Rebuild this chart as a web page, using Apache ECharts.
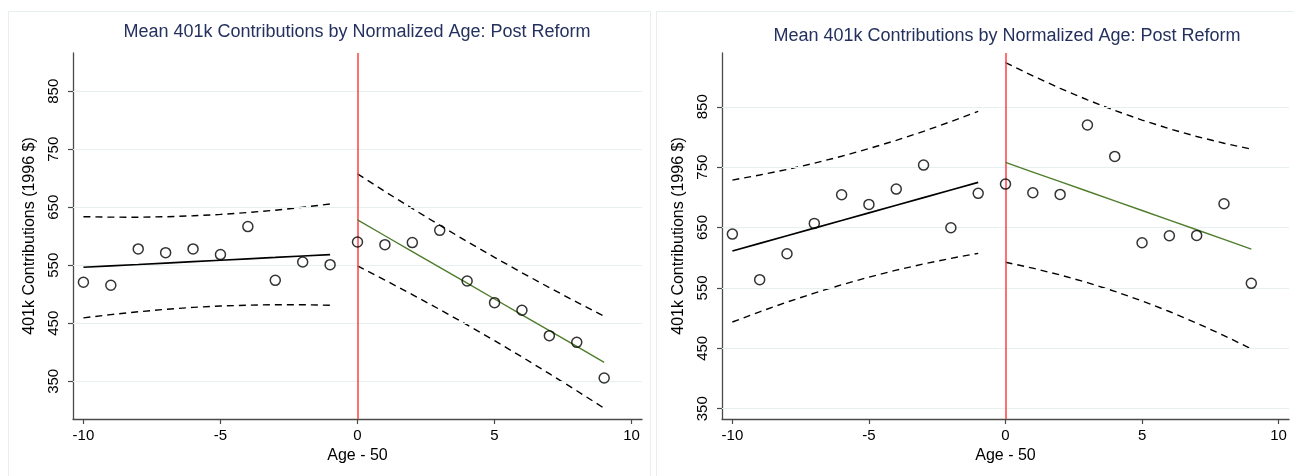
<!DOCTYPE html>
<html>
<head>
<meta charset="utf-8">
<script src="https://cdn.jsdelivr.net/npm/echarts@6/dist/echarts.min.js"></script>
<style>
  html, body { margin: 0; padding: 0; background: #ffffff; }
  #chart { width: 1294px; height: 476px; }
</style>
</head>
<body>
<div id="chart"></div>
<script>
// Labels and ticks
const titleText = 'Mean 401k Contributions by Normalized Age: Post Reform';
const xTitle = 'Age - 50';
const yTitle = '401k Contributions (1996 $)';
const xTicks = [-10, -5, 0, 5, 10];
const yTicks = [350, 450, 550, 650, 750, 850];

// Normalized age on each side of the cutoff
const agesBefore = [-10, -9, -8, -7, -6, -5, -4, -3, -2, -1];
const agesAfter = [0, 1, 2, 3, 4, 5, 6, 7, 8, 9];

// Left panel: mean contributions, linear fit and interval bounds
const aMeanBefore  = [520.7, 515.5, 578.2, 571.8, 578.2, 568.4, 616.7, 524.1, 555.7, 551.1];
const aFitBefore   = [546.6, 549.0, 551.4, 553.9, 556.3, 558.7, 561.1, 563.5, 566.0, 568.4];
const aUpperBefore = [633.8, 633.0, 632.9, 633.7, 635.3, 637.7, 640.9, 645.0, 650.0, 655.6];
const aLowerBefore = [459.4, 465.0, 469.9, 474.1, 477.4, 479.8, 481.3, 482.0, 482.0, 481.2];
const aMeanAfter   = [590.2, 585.6, 589.1, 610.3, 523.0, 485.6, 472.4, 428.7, 417.2, 355.7];
const aFitAfter    = [628.2, 600.9, 573.7, 546.4, 519.1, 491.9, 464.6, 437.3, 410.1, 382.8];
const aUpperAfter  = [707.5, 677.3, 647.9, 619.0, 590.9, 563.7, 537.2, 511.5, 486.5, 462.1];
const aLowerAfter  = [548.9, 524.5, 499.5, 473.8, 447.3, 420.1, 392.0, 363.1, 333.7, 303.5];

// Right panel: mean contributions, linear fit and interval bounds
const bMeanBefore  = [639.2, 563.7, 606.7, 656.9, 704.3, 688.3, 713.7, 753.4, 649.7, 706.6];
const bFitBefore   = [611.1, 623.7, 636.4, 649.0, 661.6, 674.3, 686.9, 699.5, 712.2, 724.8];
const bUpperBefore = [728.6, 736.9, 746.2, 756.5, 768.0, 780.7, 794.4, 809.3, 825.4, 842.3];
const bLowerBefore = [493.6, 510.5, 526.6, 541.5, 555.2, 567.9, 579.4, 589.7, 599.0, 607.3];
const bMeanAfter   = [722.0, 707.7, 704.9, 819.7, 767.8, 624.9, 636.5, 637.0, 689.4, 557.6];
const bFitAfter    = [757.9, 741.9, 726.0, 710.1, 694.1, 678.2, 662.3, 646.3, 630.4, 614.4];
const bUpperAfter  = [923.2, 901.1, 880.5, 861.4, 843.8, 827.9, 813.6, 800.8, 789.6, 779.7];
const bLowerAfter  = [592.6, 582.7, 571.5, 558.8, 544.4, 528.5, 511.0, 491.8, 471.2, 449.1];

const FONT = '"Liberation Sans", Arial, Helvetica, sans-serif';
const AXIS_COLOR = '#4a4a4a';
const GRID_COLOR = '#e7f0f1';
const TITLE_COLOR = '#24315e';
const FIT_GREEN = '#4f7d2c';
const CUT_RED = '#ff4040';

const zip = (xs, ys) => xs.map((x, i) => [x, ys[i]]);

const panels = [
  {
    grid: { left: 73, top: 53, width: 569, height: 366 },
    yMin: 285, yMax: 916, titleX: 357, titleY: 23,
    before: [aMeanBefore, aFitBefore, aUpperBefore, aLowerBefore],
    after: [aMeanAfter, aFitAfter, aUpperAfter, aLowerAfter]
  },
  {
    grid: { left: 722, top: 53, width: 567, height: 366 },
    yMin: 333, yMax: 939, titleX: 1007, titleY: 27,
    before: [bMeanBefore, bFitBefore, bUpperBefore, bLowerBefore],
    after: [bMeanAfter, bFitAfter, bUpperAfter, bLowerAfter]
  }
];

const grids = [], xAxes = [], yAxes = [], series = [], titles = [];

panels.forEach((p, i) => {
  grids.push(Object.assign({ containLabel: false, outerBoundsMode: 'none' }, p.grid));

  titles.push({
    text: titleText, left: p.titleX, top: p.titleY, textAlign: 'center', padding: 0,
    textStyle: { fontFamily: FONT, fontSize: 18, fontWeight: 'normal', color: TITLE_COLOR }
  });

  xAxes.push({
    type: 'value', gridIndex: i, min: -10.38, max: 10.38,
    name: xTitle, nameLocation: 'middle', nameGap: 27,
    nameTextStyle: { fontFamily: FONT, fontSize: 16, color: '#000' },
    axisLine: { show: true, onZero: false, lineStyle: { color: AXIS_COLOR, width: 1.3 } },
    axisTick: { show: true, length: 5, customValues: xTicks, lineStyle: { color: AXIS_COLOR, width: 1.2 } },
    axisLabel: { customValues: xTicks, margin: 9, fontFamily: FONT, fontSize: 15, color: '#000' },
    splitLine: { show: false }
  });

  yAxes.push({
    type: 'value', gridIndex: i, min: p.yMin, max: p.yMax,
    name: yTitle, nameLocation: 'middle', nameGap: 35, nameRotate: 90,
    nameTextStyle: { fontFamily: FONT, fontSize: 16, color: '#000' },
    axisLine: { show: true, onZero: false, lineStyle: { color: AXIS_COLOR, width: 1.3 } },
    axisTick: { show: true, length: 5, customValues: yTicks, lineStyle: { color: AXIS_COLOR, width: 1.2 } },
    axisLabel: { customValues: yTicks, rotate: 90, margin: 12, fontFamily: FONT, fontSize: 15, color: '#000' },
    splitLine: { show: false }
  });

  // Horizontal reference lines at each labelled value, plus the cutoff at age 50
  series.push({
    type: 'line', xAxisIndex: i, yAxisIndex: i, data: [], z: 1, silent: true,
    markLine: {
      silent: true, symbol: 'none', animation: false, label: { show: false },
      lineStyle: { color: GRID_COLOR, width: 1.2, type: 'solid' },
      data: yTicks.map(v => ({ yAxis: v }))
    }
  });
  series.push({
    type: 'line', xAxisIndex: i, yAxisIndex: i, data: [], z: 3, silent: true,
    markLine: {
      silent: true, symbol: 'none', animation: false, label: { show: false },
      lineStyle: { color: CUT_RED, width: 1.5, type: 'solid' },
      data: [{ xAxis: 0 }]
    }
  });

  const sides = [[agesBefore, p.before, '#000000', 1.7], [agesAfter, p.after, FIT_GREEN, 1.4]];
  sides.forEach(([ages, vals, fitColor, fitWidth]) => {
    const [mean, fit, upper, lower] = vals;
    [upper, lower].forEach(bound => {
      series.push({
        type: 'line', xAxisIndex: i, yAxisIndex: i, data: zip(ages, bound),
        symbol: 'none', z: 4, silent: true,
        lineStyle: { color: '#000', width: 1.4, type: [7, 5] }
      });
    });
    series.push({
      type: 'line', xAxisIndex: i, yAxisIndex: i, data: zip(ages, fit),
      symbol: 'none', z: 5, silent: true,
      lineStyle: { color: fitColor, width: fitWidth }
    });
    series.push({
      type: 'scatter', xAxisIndex: i, yAxisIndex: i, data: zip(ages, mean),
      symbol: 'circle', symbolSize: 10, z: 6, silent: true,
      itemStyle: { color: 'rgba(0,0,0,0)', borderColor: '#000', borderWidth: 1.5 }
    });
  });
});

const chart = echarts.init(document.getElementById('chart'), null, { renderer: 'canvas' });
chart.setOption({
  animation: false,
  backgroundColor: '#ffffff',
  title: titles,
  grid: grids,
  xAxis: xAxes,
  yAxis: yAxes,
  series: series,
  graphic: [
    { type: 'rect', silent: true, z: -10, shape: { x: 8.5, y: 11.5, width: 642, height: 480 },
      style: { fill: 'none', stroke: '#e6eef0', lineWidth: 1 } },
    { type: 'rect', silent: true, z: -10, shape: { x: 656.5, y: 11.5, width: 650, height: 480 },
      style: { fill: 'none', stroke: '#e6eef0', lineWidth: 1 } }
  ]
});
</script>
</body>
</html>
